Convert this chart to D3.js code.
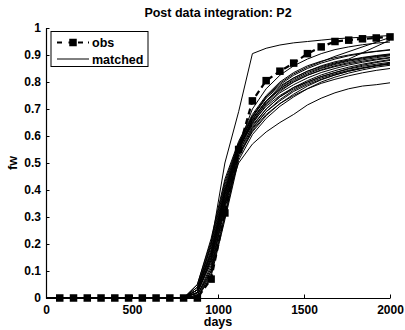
<!DOCTYPE html>
<html>
<head>
<meta charset="utf-8">
<script src="https://cdn.jsdelivr.net/npm/d3@7"></script>
<style>
  body { margin: 0; background: #fff; }
  text { font-family: "Liberation Sans", Arial, Helvetica, sans-serif; font-weight: bold; }
</style>
</head>
<body>
<div id="chart"></div>
<script>
// observed water fraction, every 80 days
const obsDays = [80, 160, 240, 320, 400, 480, 560, 640, 720, 800, 880, 960, 1040, 1120, 1200,
  1280, 1360, 1440, 1520, 1600, 1680, 1760, 1840, 1920, 2000]
const obsFw = [0, 0, 0, 0, 0, 0, 0, 0, 0, 0, 0, 0.07, 0.315, 0.55, 0.73,
  0.805, 0.84, 0.87, 0.905, 0.93, 0.95, 0.955, 0.96, 0.963, 0.967]

// matched ensemble, report times
const simDays = [0, 800, 880, 960, 1040, 1120, 1200, 1280, 1360, 1440, 1520, 1600, 1680, 1760, 1840, 1920, 2000]
// null = no report at that time
const matchedFw = [
  [0, 0, 0.03, 0.18, 0.40, 0.56, 0.65, 0.71, 0.75, 0.78, 0.80, 0.82, 0.835, 0.848, 0.858, 0.866, 0.873],
  [0, 0, 0.02, 0.15, 0.37, 0.55, 0.66, 0.73, 0.77, 0.80, 0.825, 0.843, 0.857, 0.868, 0.877, 0.885, 0.891],
  [0, 0, 0.04, 0.20, 0.42, 0.57, 0.67, 0.74, 0.785, 0.815, 0.84, 0.857, 0.871, 0.882, 0.891, 0.898, 0.904],
  [0, 0, 0.01, 0.12, 0.34, 0.54, 0.63, 0.69, 0.73, 0.765, 0.79, 0.81, 0.826, 0.84, 0.851, 0.86, 0.868],
  [0, 0, 0.03, 0.17, 0.39, 0.56, 0.64, 0.70, 0.745, 0.775, 0.80, 0.82, 0.835, 0.85, 0.862, 0.872, 0.88],
  [0, 0, 0.02, 0.14, 0.36, 0.55, 0.645, 0.715, 0.76, 0.79, 0.815, 0.835, 0.85, 0.863, 0.873, 0.882, 0.889],
  [0, 0, 0.05, 0.22, 0.44, 0.58, 0.68, 0.75, 0.80, 0.835, 0.86, 0.877, 0.89, 0.90, 0.908, 0.914, 0.92],
  [0, 0, 0.00, 0.09, 0.30, 0.52, 0.62, 0.68, 0.72, 0.75, 0.775, 0.795, 0.81, 0.823, 0.834, 0.843, 0.85],
  [0, 0, 0.01, 0.11, 0.33, 0.53, 0.625, 0.69, 0.735, 0.77, 0.795, 0.815, 0.83, 0.843, 0.853, 0.862, 0.87],
  [0, 0, 0.04, 0.19, 0.41, 0.57, 0.665, 0.73, 0.775, 0.805, 0.83, 0.85, 0.865, 0.877, 0.886, 0.894, 0.90],
  [0, 0, 0.03, 0.16, 0.38, 0.555, 0.655, 0.72, 0.765, 0.80, 0.825, 0.845, 0.86, 0.872, 0.882, 0.89, 0.897],
  [0, 0, 0.02, 0.13, 0.35, 0.545, 0.635, 0.70, 0.745, 0.78, 0.805, 0.826, 0.842, 0.855, 0.866, 0.875, 0.883],
  [0, 0, 0.05, 0.21, 0.43, 0.575, 0.675, 0.745, 0.79, 0.825, 0.85, 0.87, 0.885, 0.897, 0.906, 0.913, 0.918],
  [0, 0, 0.01, 0.10, 0.31, 0.53, 0.615, 0.675, 0.72, 0.755, 0.785, 0.808, 0.826, 0.84, 0.851, 0.86, 0.866],
  [0, 0, 0.03, 0.17, 0.40, 0.565, 0.70, 0.775, 0.825, 0.86, 0.885, 0.905, 0.92, 0.93, 0.938, 0.944, 0.948],
  [0, 0, 0.02, 0.15, 0.38, 0.56, 0.67, 0.745, 0.795, 0.83, 0.855, 0.875, 0.895, null, null, null, 0.965],
  [0, 0, 0.03, 0.16, 0.39, 0.56, 0.66, 0.73, 0.78, 0.815, 0.84, 0.86, 0.875, 0.885, null, null, 0.955],
  [0, 0, 0.03, 0.20, 0.50, 0.69, 0.905, 0.925, 0.937, 0.945, 0.95, 0.955, 0.96, 0.963, 0.966, 0.969, 0.972],
  [0, 0, 0.00, 0.10, 0.35, 0.50, 0.57, 0.615, 0.65, 0.68, 0.715, 0.74, 0.76, 0.775, 0.785, 0.79, 0.797],
  [0, 0, 0.02, 0.14, 0.36, 0.55, 0.65, 0.725, 0.775, 0.81, 0.835, 0.853, 0.868, 0.88, 0.889, 0.896, 0.902],
  [0, 0, 0.00, 0.08, 0.29, 0.51, 0.605, 0.665, 0.71, 0.745, 0.775, 0.80, 0.818, 0.833, 0.845, 0.855, 0.862]
]

const xTicks = [0, 500, 1000, 1500, 2000]
const yTicks = [0, 0.1, 0.2, 0.3, 0.4, 0.5, 0.6, 0.7, 0.8, 0.9, 1]

const width = 405
const height = 330
const margin = {top: 28, right: 15, bottom: 32, left: 46}

const svg = d3.select('#chart').append('svg')
    .attr('width', width).attr('height', height)

const x = d3.scaleLinear().domain([0, 2000]).range([margin.left, width - margin.right])
const y = d3.scaleLinear().domain([0, 1]).range([height - margin.bottom, margin.top])

// matched curves
const line = d3.line().x(d => x(d[0])).y(d => y(d[1]))
matchedFw.forEach(vals => {
    const pts = simDays.map((d, i) => [d, vals[i]]).filter(p => p[1] !== null)
    svg.append('path').datum(pts)
        .attr('d', line)
        .attr('fill', 'none').attr('stroke', '#000').attr('stroke-width', 1)
})

// observed
const obsPts = obsDays.map((d, i) => [d, obsFw[i]])
svg.append('path').datum(obsPts)
    .attr('d', line)
    .attr('fill', 'none').attr('stroke', '#000').attr('stroke-width', 2.2)
    .attr('stroke-dasharray', '6,4')

const sq = 7.5
svg.selectAll('.obs-mark').data(obsPts).enter().append('rect')
    .attr('class', 'obs-mark')
    .attr('x', d => x(d[0]) - sq / 2).attr('y', d => y(d[1]) - sq / 2)
    .attr('width', sq).attr('height', sq)
    .attr('fill', '#000')

// axes (ticks inside, MATLAB style)
const xAxis = svg.append('g')
    .attr('transform', `translate(0,${height - margin.bottom})`)
    .call(d3.axisBottom(x).tickValues(xTicks).tickSizeInner(-3.5).tickSizeOuter(0).tickPadding(7)
        .tickFormat(d3.format('d')))
const yAxis = svg.append('g')
    .attr('transform', `translate(${margin.left},0)`)
    .call(d3.axisLeft(y).tickValues(yTicks).tickSizeInner(-3.5).tickSizeOuter(0).tickPadding(5)
        .tickFormat(d => d3.format('~g')(d)))

;[xAxis, yAxis].forEach(a => {
    a.selectAll('path').attr('stroke', '#000').attr('stroke-width', 1.2)
    a.selectAll('line').attr('stroke', '#000').attr('stroke-width', 1)
    a.selectAll('text').attr('fill', '#000')
        .style('font-size', '12px').style('font-family', '"Liberation Sans", Arial, sans-serif')
        .style('font-weight', 'bold')
})

// title and labels
svg.append('text').attr('x', (margin.left + width - margin.right) / 2).attr('y', 17)
    .attr('text-anchor', 'middle').style('font-size', '12.5px')
    .text('Post data integration: P2')
svg.append('text').attr('x', (margin.left + width - margin.right) / 2).attr('y', 326)
    .attr('text-anchor', 'middle').style('font-size', '12.5px')
    .text('days')
svg.append('text')
    .attr('transform', `translate(17,${(margin.top + height - margin.bottom) / 2}) rotate(-90)`)
    .attr('text-anchor', 'middle').style('font-size', '12.5px')
    .text('fw')

// legend
const lg = svg.append('g')
lg.append('rect').attr('x', 51).attr('y', 31.5).attr('width', 97).attr('height', 35)
    .attr('fill', '#fff').attr('stroke', '#000').attr('stroke-width', 1)
lg.append('line').attr('x1', 57).attr('x2', 89).attr('y1', 42.5).attr('y2', 42.5)
    .attr('stroke', '#000').attr('stroke-width', 2.2).attr('stroke-dasharray', '5,6.5,3,6.5,5')
lg.append('rect').attr('x', 73 - sq / 2).attr('y', 42.5 - sq / 2).attr('width', sq).attr('height', sq)
    .attr('fill', '#000')
lg.append('text').attr('x', 92).attr('y', 47).style('font-size', '12.5px').text('obs')
lg.append('line').attr('x1', 57).attr('x2', 89).attr('y1', 59).attr('y2', 59)
    .attr('stroke', '#000').attr('stroke-width', 1)
lg.append('text').attr('x', 92).attr('y', 63.5).style('font-size', '12.5px').text('matched')
</script>
</body>
</html>
